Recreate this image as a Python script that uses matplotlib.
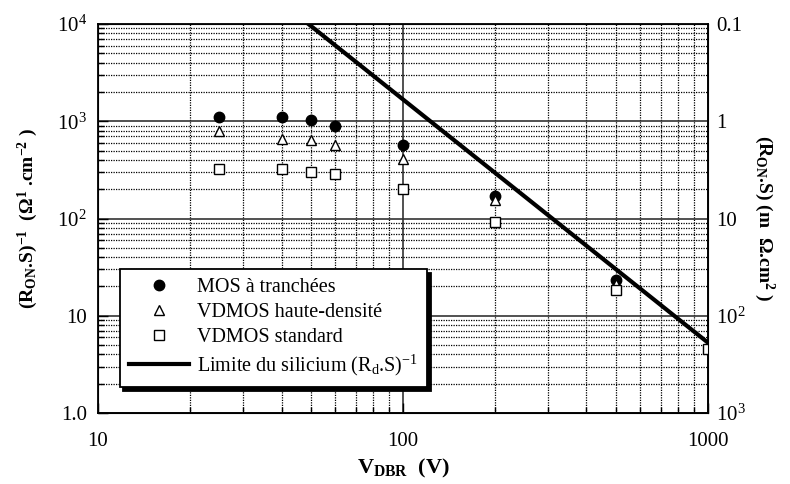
import matplotlib
matplotlib.use('Agg')
import matplotlib.pyplot as plt
from matplotlib.ticker import FixedLocator, FixedFormatter, NullFormatter, LogLocator

plt.rcParams['font.family'] = ['Liberation Serif', 'DejaVu Serif']
plt.rcParams['mathtext.fontset'] = 'custom'
plt.rcParams['mathtext.rm'] = 'Liberation Serif'
plt.rcParams['mathtext.it'] = 'Liberation Serif:italic'
plt.rcParams['mathtext.bf'] = 'Liberation Serif:bold'

# data
vdbr = [25, 40, 50, 60, 100, 200, 500]
mosTrench = [1100, 1100, 1020, 900, 574, 169, 23.5]
vdmosHD = [800, 656, 646, 570, 412, 154, 21]
vdbrStd = [25, 40, 50, 60, 100, 200, 500, 1000]
vdmosStd = [326, 325, 298, 285, 202, 93, 18.2, 4.5]
vdbrSi = [49, 1000]
siLimit = [1.0e4, 5.3]

yTicks = [1, 10, 100, 1000, 10000]
yTickLabels = ['1.0', '10', '$10^2$', '$10^3$', '$10^4$']
xTicks = [10, 100, 1000]
xTickLabels = ['10', '100', '1000']
rTicks = [0.1, 1, 10, 100, 1000]
rTickLabels = ['0.1', '1', '10', '$10^2$', '$10^3$']

fig = plt.figure(figsize=(7.9, 4.84), dpi=100)
ax = fig.add_axes([0.124, 0.1467, 0.772, 0.8037])
ax.set_xscale('log')
ax.set_yscale('log')
ax.set_xlim(10, 1000)
ax.set_ylim(1, 1e4)

# grid: solid decades, dotted minor lines
ax.grid(which='major', color='#333333', linestyle='-', linewidth=1.2, zorder=0)
ax.grid(which='minor', color='black', linestyle=(0, (1, 1)), linewidth=0.9, zorder=0)
ax.set_axisbelow(True)

ax.plot(vdbrSi, siLimit, color='black', linewidth=3.0, label=r'Limite du silicium (R$_{\rm d}$.S)$^{-1}$', zorder=3)
ax.plot(vdbr, mosTrench, linestyle='none', marker='o', markersize=7.5, color='black', label='MOS à tranchées', zorder=4)
ax.plot(vdbr, vdmosHD, linestyle='none', marker='^', markersize=7.5, markerfacecolor='white', markeredgecolor='black', markeredgewidth=1, label='VDMOS haute-densité', zorder=4)
ax.plot(vdbrStd, vdmosStd, linestyle='none', marker='s', markersize=7.5, markerfacecolor='white', markeredgecolor='black', markeredgewidth=1, label='VDMOS standard', zorder=4)

ax.xaxis.set_major_locator(FixedLocator(xTicks))
ax.xaxis.set_major_formatter(FixedFormatter(xTickLabels))
ax.xaxis.set_minor_locator(LogLocator(base=10, subs=range(2, 10)))
ax.xaxis.set_minor_formatter(NullFormatter())
ax.yaxis.set_major_locator(FixedLocator(yTicks))
ax.yaxis.set_major_formatter(FixedFormatter(yTickLabels))
ax.yaxis.set_minor_locator(LogLocator(base=10, subs=range(2, 10)))
ax.yaxis.set_minor_formatter(NullFormatter())
ax.tick_params(which='major', direction='in', length=7, width=1, labelsize=15, pad=8, right=False, top=False)
ax.tick_params(which='minor', direction='in', length=4, width=1, right=False, top=False)
ax.tick_params(axis='x', which='major', pad=14)
for s in ax.spines.values():
    s.set_linewidth(1.3)

ax.set_xlabel(r'$\mathbf{V_{DBR}}$  (V)', fontsize=16, fontweight='bold', labelpad=4)
ax.set_ylabel(r'(R$_{\mathbf{ON}}$.S)$^{\mathbf{-1}}$  (Ω$^{\mathbf{1}}$ .cm$^{\mathbf{-2}}$ )', fontsize=14, fontweight='bold', labelpad=12)

# right axis: inverse of left
ax2 = ax.twinx()
ax2.set_yscale('log')
ax2.set_ylim(1000, 0.1)
ax2.yaxis.set_major_locator(FixedLocator(rTicks))
ax2.yaxis.set_major_formatter(FixedFormatter(rTickLabels))
ax2.yaxis.set_minor_locator(FixedLocator([]))
ax2.tick_params(which='major', length=0, labelsize=15, pad=6)
ax2.set_ylabel(r'(R$_{\mathbf{ON}}$.S) (m  Ω.cm$^{\mathbf{2}}$ )', fontsize=14, fontweight='bold', rotation=270, labelpad=22)

handles, labels = ax.get_legend_handles_labels()
order = [1, 2, 3, 0]
leg = ax2.legend([handles[i] for i in order], [labels[i] for i in order],
                 loc='upper left', bbox_to_anchor=(0.036, 0.370), borderaxespad=0,
                 fontsize=14.5, fancybox=False, framealpha=1, edgecolor='black',
                 handlelength=3.0, handletextpad=0.4, labelspacing=0.28, borderpad=0.45,
                 shadow={'ox': 2.5, 'oy': -3, 'facecolor': 'black', 'edgecolor': 'black', 'alpha': 1})
leg.get_frame().set_linewidth(1.3)
leg.set_zorder(10)

plt.savefig('out.png', dpi=100)
